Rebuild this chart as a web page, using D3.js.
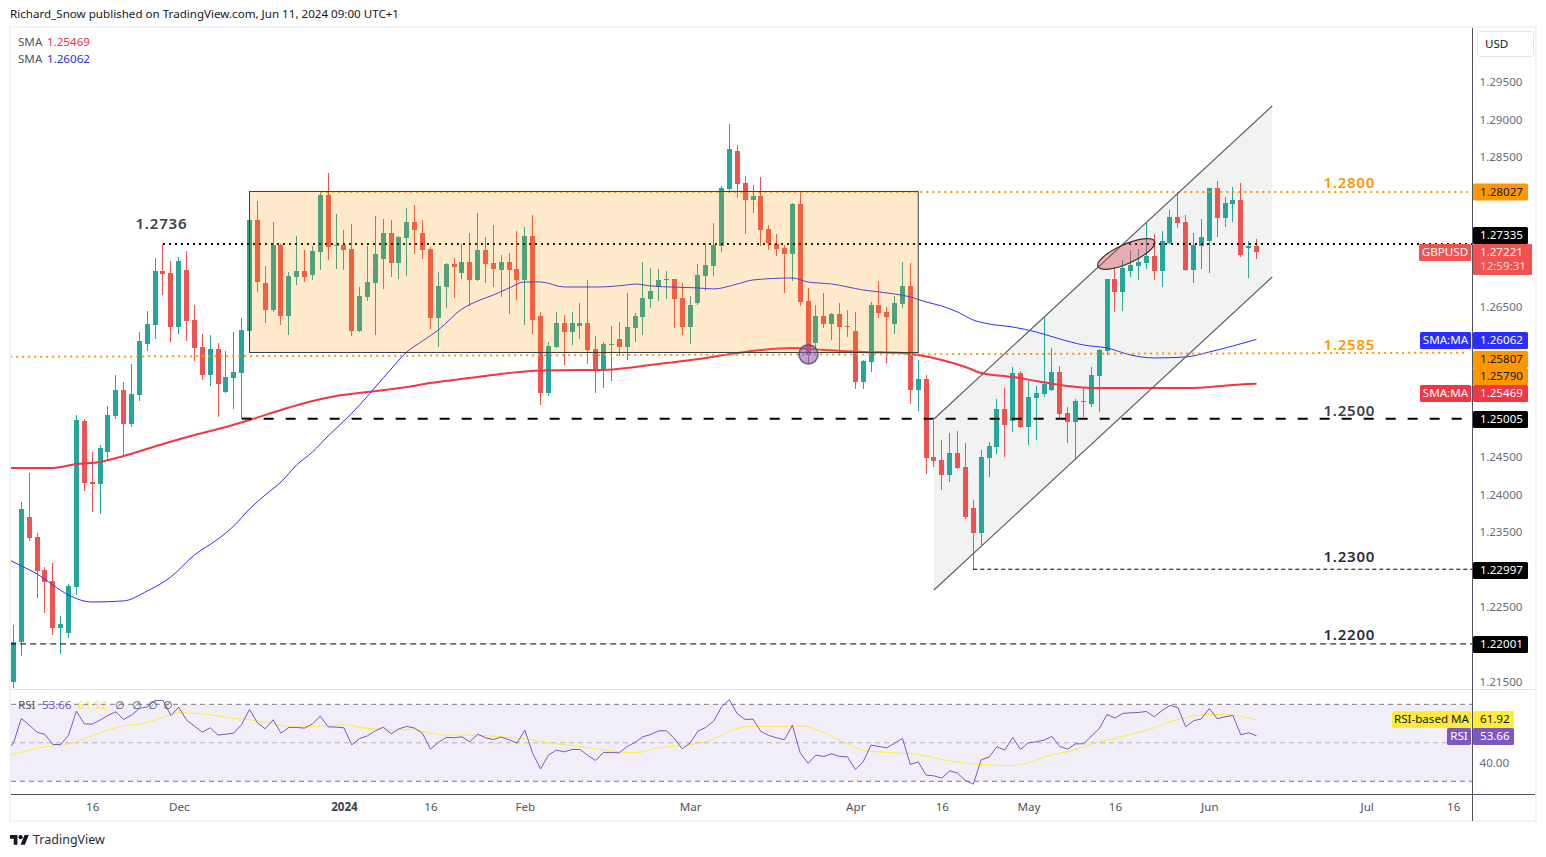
<!DOCTYPE html>
<html>
<head>
<meta charset="utf-8">
<script src="https://cdn.jsdelivr.net/npm/d3@7"></script>
<style>
  html, body { margin: 0; padding: 0; background: #fff; }
  svg { display: block; font-family: "Noto Sans", sans-serif; }
  .tick text { font-family: "Noto Sans", sans-serif; }
</style>
</head>
<body>
<svg width="1546" height="857"></svg>
<script>
// daily GBPUSD candles, one entry per bar
var opens = [
  1.21493,1.22027,1.23694,1.23427,1.22987,1.22841,1.22213,1.22147,1.22761,1.24974,
  1.24160,1.24134,1.24560,1.25040,1.25387,1.24934,1.25320,1.26001,1.26254,1.26974,
  1.26947,1.26227,1.26987,1.26320,1.25960,1.25587,1.25934,1.25360,1.25547,1.25614,
  1.26174,1.27654,1.26814,1.26454,1.27320,1.26374,1.26894,1.26974,1.26920,1.27227,
  1.27987,1.27307,1.27320,1.27267,1.26174,1.26627,1.26814,1.27134,1.27480,1.27080,
  1.27414,1.27627,1.27480,1.27267,1.26347,1.26760,1.27067,1.26947,1.27093,1.26854,
  1.27254,1.27080,1.26987,1.27093,1.27000,1.26854,1.27440,1.26374,1.25347,1.25960,
  1.26280,1.26160,1.26240,1.26280,1.25934,1.25654,1.25987,1.26067,1.25960,1.26214,
  1.26360,1.26600,1.26760,1.26854,1.26867,1.26614,1.26227,1.26547,1.26907,1.27040,
  1.27307,1.28067,1.28574,1.28147,1.27920,1.27974,1.27534,1.27334,1.27280,1.27200,
  1.27867,1.26574,1.26014,1.26374,1.26267,1.26400,1.26240,1.26174,1.25493,1.25760,
  1.26520,1.26427,1.26267,1.26534,1.26774,1.25387,1.25534,1.24494,1.24454,1.24254,
  1.24547,1.24360,1.23813,1.23480,1.24480,1.24627,1.25134,1.24974,1.25614,1.24894,
  1.25280,1.25334,1.25387,1.25627,1.25080,1.24960,1.25227,1.25201,1.25574,1.25907,
  1.26867,1.26693,1.26974,1.27040,1.27080,1.27174,1.26974,1.27347,1.27694,1.27627,
  1.26987,1.27307,1.27374,1.28080,1.27680,1.27867,1.27920,1.27280,1.27307
];
var highs = [
  1.22253,1.23893,1.24280,1.23480,1.23027,1.23080,1.22374,1.22801,1.25053,1.25000,
  1.24560,1.24653,1.25174,1.25587,1.25493,1.25734,1.26160,1.26441,1.27147,1.27334,
  1.27107,1.27161,1.27241,1.26520,1.26134,1.26120,1.26014,1.25907,1.26160,1.26347,
  1.27654,1.27907,1.27040,1.27627,1.27334,1.26960,1.27440,1.27254,1.27307,1.28014,
  1.28280,1.27734,1.27520,1.27600,1.26760,1.27307,1.27707,1.27667,1.27654,1.27440,
  1.27813,1.27853,1.27654,1.27293,1.26960,1.27080,1.27147,1.27334,1.27480,1.27747,
  1.27427,1.27587,1.27187,1.27214,1.27507,1.27560,1.27720,1.26427,1.26027,1.26427,
  1.26387,1.26427,1.26547,1.26854,1.26107,1.26027,1.26240,1.26293,1.26680,1.26414,
  1.27093,1.27014,1.27000,1.26974,1.26867,1.26814,1.26640,1.27067,1.27347,1.27614,
  1.28107,1.28934,1.28654,1.28240,1.28120,1.28227,1.27587,1.27467,1.27320,1.27880,
  1.28027,1.26747,1.26520,1.26680,1.26414,1.26547,1.26454,1.26427,1.25787,1.26560,
  1.26841,1.26494,1.26640,1.27093,1.27080,1.25787,1.25587,1.24987,1.24720,1.24814,
  1.24841,1.24680,1.23920,1.24587,1.24693,1.25267,1.25414,1.25694,1.25640,1.25507,
  1.25440,1.26347,1.25947,1.25707,1.25160,1.25267,1.25414,1.25694,1.25934,1.26867,
  1.27027,1.27120,1.27254,1.27267,1.27614,1.27467,1.27507,1.27787,1.28027,1.27720,
  1.27480,1.27667,1.28080,1.28174,1.27960,1.28094,1.28147,1.27374,1.27400
];
var lows = [
  1.21413,1.21840,1.23374,1.22613,1.22414,1.22120,1.21867,1.22080,1.22653,1.24041,
  1.23760,1.23734,1.24454,1.25000,1.24507,1.24894,1.25241,1.25907,1.26067,1.26653,
  1.26027,1.26134,1.26041,1.25774,1.25520,1.25440,1.25027,1.25347,1.25134,1.25014,
  1.26160,1.26693,1.26280,1.26427,1.26254,1.26120,1.26787,1.26827,1.26854,1.26987,
  1.27120,1.27000,1.26987,1.26107,1.26160,1.26574,1.26120,1.26734,1.26894,1.26867,
  1.26907,1.27200,1.27134,1.26200,1.25960,1.26480,1.26614,1.26867,1.26507,1.26841,
  1.26814,1.26760,1.26627,1.26401,1.26587,1.26254,1.26134,1.25187,1.25307,1.25947,
  1.25720,1.25987,1.26067,1.25734,1.25347,1.25414,1.25507,1.25840,1.25787,1.26027,
  1.26120,1.26480,1.26574,1.26600,1.26214,1.26120,1.26001,1.26520,1.26707,1.26907,
  1.27227,1.28040,1.27947,1.27467,1.27747,1.27307,1.27254,1.27174,1.26680,1.26841,
  1.26507,1.25747,1.25920,1.26214,1.26054,1.25854,1.26094,1.25400,1.25400,1.25627,
  1.26347,1.25747,1.26134,1.26480,1.25201,1.25107,1.24267,1.24360,1.24054,1.24160,
  1.24334,1.23667,1.22987,1.23320,1.24227,1.24534,1.24494,1.24827,1.24880,1.24653,
  1.24720,1.25294,1.25374,1.25014,1.24680,1.24454,1.25027,1.25160,1.25094,1.25854,
  1.26427,1.26441,1.26894,1.26854,1.27000,1.26854,1.26760,1.27334,1.27547,1.26974,
  1.26814,1.27000,1.26947,1.27427,1.27560,1.27627,1.27161,1.26880,1.27134
];
var closes = [
  1.22027,1.23800,1.23413,1.22974,1.22827,1.22213,1.22267,1.22774,1.24987,1.24147,
  1.24134,1.24613,1.25053,1.25387,1.24934,1.25334,1.26041,1.26267,1.26974,1.26934,
  1.26227,1.27107,1.26307,1.25947,1.25587,1.25934,1.25467,1.25560,1.25627,1.26187,
  1.27654,1.26827,1.26454,1.27320,1.26374,1.26907,1.26974,1.26894,1.27241,1.27987,
  1.27293,1.27320,1.27254,1.26174,1.26640,1.26827,1.27200,1.27480,1.27080,1.27427,
  1.27627,1.27520,1.27254,1.26347,1.26774,1.27067,1.27027,1.27093,1.26854,1.27254,
  1.27067,1.27000,1.27093,1.26987,1.26854,1.27440,1.26320,1.25347,1.25974,1.26280,
  1.26160,1.26280,1.26280,1.25920,1.25654,1.26001,1.26001,1.25960,1.26227,1.26374,
  1.26614,1.26707,1.26854,1.26867,1.26600,1.26227,1.26520,1.26920,1.27054,1.27320,
  1.28080,1.28600,1.28134,1.27920,1.27974,1.27520,1.27347,1.27267,1.27200,1.27867,
  1.26560,1.25854,1.26374,1.26267,1.26400,1.26227,1.26227,1.25493,1.25774,1.26520,
  1.26414,1.26360,1.26547,1.26774,1.25387,1.25534,1.24480,1.24441,1.24254,1.24547,
  1.24347,1.23694,1.23480,1.24494,1.24640,1.25134,1.24920,1.25614,1.24894,1.25294,
  1.25347,1.25467,1.25627,1.25067,1.24960,1.25241,1.25241,1.25587,1.25920,1.26867,
  1.26693,1.27014,1.27054,1.27093,1.27174,1.26974,1.27374,1.27694,1.27614,1.26987,
  1.27320,1.27427,1.28080,1.27680,1.27880,1.27920,1.27187,1.27307,1.27221
];

// moving averages, read at selected bars
var sma50Bars = [-1,1,3,5,7,10,14,17,20,23,26,28,30,32,34,36,38,40,42,44,46,48,50,52,54,57,59,61,63,65,67,70,74,78,79,81,87,89,92,94,99,101,104,108,112,114,116,118,120,122,124,127,130,133,136,139,142,145,149,152,155,158];
var sma50Values = [1.23147,1.23040,1.22934,1.22787,1.22653,1.22560,1.22574,1.22707,1.22894,1.23187,1.23400,1.23574,1.23800,1.23987,1.24160,1.24387,1.24560,1.24774,1.24974,1.25187,1.25427,1.25667,1.25894,1.26041,1.26187,1.26467,1.26574,1.26653,1.26747,1.26827,1.26827,1.26760,1.26760,1.26787,1.26800,1.26774,1.26747,1.26734,1.26800,1.26854,1.26880,1.26827,1.26800,1.26720,1.26667,1.26627,1.26560,1.26507,1.26427,1.26320,1.26267,1.26227,1.26160,1.26067,1.25987,1.25947,1.25854,1.25814,1.25827,1.25894,1.25974,1.26062];
var sma200Bars = [-1,5,8,11,14,19,23,27,30,34,37,41,45,50,53,59,63,67,72,75,79,83,88,92,95,99,103,108,113,115,118,121,123,127,130,134,137,143,150,155,158];
var sma200Values = [1.24347,1.24347,1.24400,1.24427,1.24507,1.24667,1.24787,1.24894,1.24987,1.25120,1.25214,1.25307,1.25360,1.25427,1.25480,1.25560,1.25614,1.25647,1.25654,1.25654,1.25694,1.25747,1.25814,1.25880,1.25920,1.25947,1.25920,1.25894,1.25880,1.25854,1.25787,1.25694,1.25614,1.25560,1.25507,1.25440,1.25414,1.25414,1.25414,1.25454,1.25469];

// RSI from bar -1 to bar 158
var rsiValues = [
  44.80,50.00,62.64,59.18,55.54,54.33,49.13,49.13,53.98,66.45,59.87,
  59.70,61.78,64.20,66.11,62.12,64.38,67.84,68.71,72.00,72.00,
  64.20,68.53,61.78,58.66,55.54,57.79,53.98,54.50,55.02,59.53,
  67.32,60.39,57.27,61.95,55.02,57.97,57.97,57.62,59.87,63.86,
  58.31,58.14,57.79,48.96,52.25,53.64,56.24,58.14,54.68,57.27,
  58.49,57.62,54.85,46.71,50.17,52.77,52.60,53.12,50.52,54.50,
  52.60,51.73,52.94,51.56,49.83,56.58,44.46,36.49,43.59,46.19,
  45.32,46.54,46.54,43.42,40.82,44.98,44.98,44.80,48.09,50.17,
  53.12,54.33,56.24,56.24,52.25,46.88,49.83,56.06,57.97,61.26,
  68.71,72.34,65.07,62.12,62.30,55.89,53.81,52.60,51.56,59.18,
  44.80,39.26,43.59,42.90,44.28,42.90,42.73,36.14,40.13,48.79,
  48.09,47.40,49.83,52.25,38.74,40.13,33.20,32.85,31.64,35.45,
  34.24,30.43,28.52,41.17,42.55,47.92,46.19,52.77,46.54,50.00,
  50.52,51.39,53.29,48.09,46.71,49.48,49.48,53.46,57.27,64.72,
  62.82,65.24,65.59,65.76,66.28,63.51,66.80,69.40,68.36,58.31,
  61.43,62.47,67.84,62.47,63.51,64.20,54.16,55.20,53.66
];
var rsiMaBars = [-1,2,4,7,9,11,14,16,18,20,21,25,28,30,34,36,39,42,45,49,51,53,55,58,62,65,68,72,75,79,82,86,89,91,94,97,100,103,106,108,112,115,118,123,127,129,132,134,137,141,145,148,152,155,158];
var rsiMaValues = [42.73,46.19,47.92,49.31,52.08,55.20,58.83,59.70,61.95,64.72,65.59,64.55,62.64,61.95,59.18,58.14,58.66,59.35,57.45,56.75,56.75,55.02,53.98,53.98,53.12,52.08,50.00,48.09,46.36,44.80,47.40,48.96,51.91,56.06,58.66,58.31,58.83,55.20,49.48,46.02,44.80,43.94,41.34,38.74,38.22,39.61,43.76,45.32,49.48,53.29,57.79,62.12,64.72,64.38,61.92];

// axis labels
var priceTicks = [1.295,1.29,1.285,1.265,1.245,1.24,1.235,1.225,1.215];
var timeTickBars = [10,21,42,53,65,86,107,118,129,140,152,172,183];
var timeTickLabels = ["16","Dec","2024","16","Feb","Mar","Apr","16","May","16","Jun","Jul","16"];

// drawn levels and their captions
var levelCaptions = ["1.2736","1.2800","1.2585","1.2500","1.2300","1.2200"];
var captionBars = [18.8,169.8,169.8,169.8,169.8,169.8];
var captionPrices = [1.27581,1.28133,1.25974,1.25094,1.23147,1.22107];
var captionColors = ["#3b3f4a","#ff9800","#ff9800","#3b3f4a","#2a2e39","#2a2e39"];

var svg = d3.select("svg"),
  width = +svg.attr("width"),
  height = +svg.attr("height");

var paneLeft = 11,
  paneRight = 1472,
  mainBottom = 689,
  rsiBottom = 794;

var labelSize = 11.6;

var x = d3.scaleLinear().domain([0, 158]).range([13.5, 1256.5]);
var y = d3.scaleLinear().domain([1.29, 1.24]).range([119, 494]);
var yRsi = d3.scaleLinear().domain([70, 30]).range([704.3, 781.3]);

var upColor = "#26a69a",
  downColor = "#ef5350",
  orange = "#ff9800",
  smaRed = "#f23645",
  smaBlue = "#2a2eff",
  rsiPurple = "#7e57c2",
  rsiYellow = "#ffeb3b",
  axisText = "#6a6d78";

var defs = svg.append("defs");
defs.append("clipPath").attr("id", "main-clip").append("rect")
  .attr("x", paneLeft).attr("y", 28).attr("width", paneRight - paneLeft).attr("height", mainBottom - 28);
defs.append("clipPath").attr("id", "rsi-clip").append("rect")
  .attr("x", paneLeft).attr("y", mainBottom + 1).attr("width", paneRight - paneLeft).attr("height", rsiBottom - mainBottom - 1);

// header + frame
svg.append("text")
  .attr("x", 10).attr("y", 18)
  .attr("font-size", labelSize).attr("fill", "#131722")
  .text("Richard_Snow published on TradingView.com, Jun 11, 2024 09:00 UTC+1");

svg.append("rect")
  .attr("x", 10).attr("y", 27).attr("width", 1526).attr("height", 794)
  .attr("fill", "none").attr("stroke", "#f0f3fa").attr("stroke-width", 2);

svg.append("line")
  .attr("x1", 11).attr("x2", 1535).attr("y1", 689.5).attr("y2", 689.5)
  .attr("stroke", "#e0e3eb");

var main = svg.append("g").attr("clip-path", "url(#main-clip)");

// channel fill goes under the candles
var channelTop = [{ bar: 117, price: 1.25, }, { bar: 160, price: 1.29174 }];
var channelBottom = [{ bar: 117, price: 1.2272 }, { bar: 160, price: 1.26894 }];
var priceLine = d3.line().x(d => x(d.bar)).y(d => y(d.price));

main.append("path")
  .attr("d", priceLine(channelTop.concat(channelBottom.slice().reverse())) + "Z")
  .attr("fill", "#f1f3f3");

// candles
var bars = d3.range(opens.length);
var candle = main.append("g").attr("shape-rendering", "crispEdges")
  .selectAll("g").data(bars).enter().append("g")
  .attr("fill", i => (closes[i] >= opens[i] ? upColor : downColor));

candle.append("rect")
  .attr("x", i => Math.floor(x(i)))
  .attr("width", 1)
  .attr("y", i => Math.round(y(highs[i])))
  .attr("height", i => Math.max(1, Math.round(y(lows[i])) - Math.round(y(highs[i]))));

candle.append("rect")
  .attr("x", i => Math.floor(x(i)) - 2)
  .attr("width", 5)
  .attr("y", i => Math.round(y(Math.max(opens[i], closes[i]))))
  .attr("height", i => Math.max(1, Math.round(y(Math.min(opens[i], closes[i]))) - Math.round(y(Math.max(opens[i], closes[i])))));

// moving averages
function maLine(barList, values) {
  return d3.line().x((d, i) => x(barList[i])).y(d => y(d)).curve(d3.curveMonotoneX)(values);
}
main.append("path").attr("d", maLine(sma200Bars, sma200Values))
  .attr("fill", "none").attr("stroke", smaRed).attr("stroke-width", 2);
main.append("path").attr("d", maLine(sma50Bars, sma50Values))
  .attr("fill", "none").attr("stroke", smaBlue).attr("stroke-width", 1);

// horizontal levels
function levelLine(points, color, widthPx, dash) {
  main.append("path").attr("d", priceLine(points))
    .attr("fill", "none").attr("stroke", color)
    .attr("stroke-width", widthPx).attr("stroke-dasharray", dash);
}
var rightBar = x.invert(paneRight);
var orangeEnd = x.invert(1468);
levelLine([{ bar: 19, price: 1.27335 }, { bar: rightBar, price: 1.27335 }], "#000", 2, "2 4");
levelLine([{ bar: 39, price: 1.28027 }, { bar: orangeEnd, price: 1.28027 }], orange, 2, "2 4");
levelLine([{ bar: -0.42, price: 1.2583 }, { bar: orangeEnd, price: 1.25884 }], orange, 2, "2 4");
levelLine([{ bar: 29, price: 1.25005 }, { bar: rightBar, price: 1.25005 }], "#000", 2, "10 12");
levelLine([{ bar: 122, price: 1.22997 }, { bar: rightBar, price: 1.22997 }], "#000", 1, "4 3");
levelLine([{ bar: -0.42, price: 1.22001 }, { bar: rightBar, price: 1.22001 }], "#000", 1, "6 4");

// channel edges
levelLine(channelTop, "#5d606b", 1.2, null);
levelLine(channelBottom, "#5d606b", 1.2, null);

// range box over everything it covers
main.append("rect")
  .attr("x", x(30)).attr("width", x(115) - x(30))
  .attr("y", y(1.28034)).attr("height", y(1.25887) - y(1.28034))
  .attr("fill", orange).attr("fill-opacity", 0.2)
  .attr("stroke", "#363a45").attr("stroke-width", 1);

// marker circle and ellipse
main.append("circle")
  .attr("cx", x(101.05)).attr("cy", y(1.25862)).attr("r", 9.5)
  .attr("fill", rsiPurple).attr("fill-opacity", 0.55)
  .attr("stroke", "#50535e").attr("stroke-opacity", 0.85).attr("stroke-width", 1.6);

main.append("ellipse")
  .attr("transform", "translate(" + x(141.44) + "," + y(1.272) + ") rotate(-24)")
  .attr("rx", 31).attr("ry", 9.5)
  .attr("fill", "#dd3c48").attr("fill-opacity", 0.38)
  .attr("stroke", "#3d2e30").attr("stroke-width", 1.2);

// level captions
svg.append("g").selectAll("text").data(levelCaptions).enter().append("text")
  .attr("x", (d, i) => x(captionBars[i]))
  .attr("y", (d, i) => y(captionPrices[i]))
  .attr("text-anchor", "middle")
  .attr("font-size", 15).attr("font-weight", 600).attr("letter-spacing", 0.8)
  .attr("dominant-baseline", "middle")
  .attr("fill", (d, i) => captionColors[i])
  .text(d => d);

// legends
function legendRow(rowY, value, color) {
  svg.append("text").attr("x", 18).attr("y", rowY).attr("font-size", labelSize).attr("fill", "#50535e").text("SMA");
  svg.append("text").attr("x", 47).attr("y", rowY).attr("font-size", labelSize).attr("fill", color).text(value);
}
legendRow(46, "1.25469", smaRed);
legendRow(63, "1.26062", smaBlue);

// RSI pane
var rsiPane = svg.append("g").attr("clip-path", "url(#rsi-clip)");
rsiPane.append("rect")
  .attr("x", paneLeft).attr("width", paneRight - paneLeft)
  .attr("y", yRsi(70)).attr("height", yRsi(30) - yRsi(70))
  .attr("fill", rsiPurple).attr("fill-opacity", 0.1);

[70, 50, 30].forEach(function(level) {
  rsiPane.append("line")
    .attr("x1", paneLeft).attr("x2", paneRight)
    .attr("y1", yRsi(level)).attr("y2", yRsi(level))
    .attr("stroke", "#787b86")
    .attr("stroke-opacity", level == 50 ? 0.5 : 1)
    .attr("stroke-dasharray", "5 4");
});

rsiPane.append("path")
  .attr("d", d3.line().x((d, i) => x(rsiMaBars[i])).y(d => yRsi(d)).curve(d3.curveMonotoneX)(rsiMaValues))
  .attr("fill", "none").attr("stroke", rsiYellow).attr("stroke-width", 1);
rsiPane.append("path")
  .attr("d", d3.line().x((d, i) => x(i - 1)).y(d => yRsi(d))(rsiValues))
  .attr("fill", "none").attr("stroke", rsiPurple).attr("stroke-width", 1);

var rsiLegendY = 709;
svg.append("text").attr("x", 18).attr("y", rsiLegendY).attr("font-size", labelSize).attr("fill", "#50535e").text("RSI");
svg.append("text").attr("x", 42).attr("y", rsiLegendY).attr("font-size", labelSize).attr("fill", rsiPurple).text("53.66");
svg.append("text").attr("x", 78).attr("y", rsiLegendY).attr("font-size", labelSize).attr("fill", rsiYellow).text("61.92");
[115, 132, 148, 163].forEach(function(legendX) {
  svg.append("text").attr("x", legendX).attr("y", rsiLegendY)
    .attr("font-size", 10.5).attr("font-family", "DejaVu Sans").attr("fill", "#50535e").text("∅");
});

// axes
svg.append("line")
  .attr("x1", 11).attr("x2", 1535).attr("y1", rsiBottom + 0.5).attr("y2", rsiBottom + 0.5)
  .attr("stroke", "#50535e");
svg.append("line")
  .attr("x1", paneRight + 0.5).attr("x2", paneRight + 0.5).attr("y1", 28).attr("y2", 821)
  .attr("stroke", "#50535e");

var priceAxis = svg.append("g")
  .attr("transform", "translate(" + (paneRight + 0.5) + ",0.7)")
  .call(d3.axisRight(y).tickValues(priceTicks).tickSize(0).tickPadding(7).tickFormat(d3.format(".5f")));
priceAxis.select(".domain").remove();
priceAxis.selectAll("text").attr("font-size", labelSize).attr("fill", axisText);

var rsiAxis = svg.append("g")
  .attr("transform", "translate(" + (paneRight + 0.5) + ",0.7)")
  .call(d3.axisRight(yRsi).tickValues([40]).tickSize(0).tickPadding(7).tickFormat(d3.format(".2f")));
rsiAxis.select(".domain").remove();
rsiAxis.selectAll("text").attr("font-size", labelSize).attr("fill", axisText);

var timeAxis = svg.append("g")
  .attr("transform", "translate(0," + (rsiBottom + 6) + ")")
  .call(d3.axisBottom(x).tickValues(timeTickBars).tickSize(0).tickPadding(3)
    .tickFormat((d, i) => timeTickLabels[i]));
timeAxis.select(".domain").remove();
timeAxis.selectAll("text")
  .attr("font-size", labelSize)
  .attr("fill", (d, i) => (timeTickLabels[i] == "2024" ? "#3b3f4a" : "#50535e"))
  .attr("font-weight", (d, i) => (timeTickLabels[i] == "2024" ? 700 : 400));

// USD button
svg.append("rect")
  .attr("x", 1477.5).attr("y", 31.5).attr("width", 56).attr("height", 25).attr("rx", 3)
  .attr("fill", "#fff").attr("stroke", "#e0e3eb");
svg.append("text").attr("x", 1485).attr("y", 48).attr("font-size", labelSize).attr("fill", "#131722").text("USD");

// price badges
function badge(centerY, label, bg, fg, badgeWidth) {
  var g = svg.append("g");
  g.append("rect")
    .attr("x", paneRight + 1).attr("y", centerY - 8.5)
    .attr("width", badgeWidth || 55).attr("height", 17).attr("rx", 1.5)
    .attr("fill", bg);
  g.append("text")
    .attr("x", paneRight + 8).attr("y", centerY + 0.5)
    .attr("dominant-baseline", "middle")
    .attr("font-size", labelSize).attr("fill", fg)
    .text(label);
}
function tag(centerY, label, bg, fg, tagWidth) {
  svg.append("rect")
    .attr("x", paneRight - tagWidth).attr("y", centerY - 8.5)
    .attr("width", tagWidth - 1).attr("height", 17).attr("rx", 1.5)
    .attr("fill", bg);
  svg.append("text")
    .attr("x", paneRight - 1 - (tagWidth - 1) / 2).attr("y", centerY + 0.5)
    .attr("text-anchor", "middle").attr("dominant-baseline", "middle")
    .attr("font-size", labelSize).attr("fill", fg)
    .text(label);
}

badge(192, "1.28027", orange, "#131722");
badge(235.5, "1.27335", "#000", "#fff");
svg.append("rect")
  .attr("x", paneRight + 1).attr("y", 244).attr("width", 59).attr("height", 31).attr("rx", 1.5)
  .attr("fill", downColor);
svg.append("text").attr("x", paneRight + 8).attr("y", 253).attr("dominant-baseline", "middle")
  .attr("font-size", labelSize).attr("fill", "#fff").text("1.27221");
svg.append("text").attr("x", paneRight + 8).attr("y", 267).attr("dominant-baseline", "middle")
  .attr("font-size", labelSize).attr("fill", "#fff").attr("fill-opacity", 0.75).text("12:59:31");
tag(252.5, "GBPUSD", downColor, "#fff", 53);

badge(340.5, "1.26062", smaBlue, "#fff");
tag(340.5, "SMA:MA", smaBlue, "#fff", 52);

badge(359.5, "1.25807", orange, "#131722");
badge(376.5, "1.25790", orange, "#131722");
badge(393.5, "1.25469", smaRed, "#fff");
tag(393.5, "SMA:MA", smaRed, "#fff", 52);

badge(419.5, "1.25005", "#000", "#fff");
badge(570.5, "1.22997", "#000", "#fff");
badge(644.5, "1.22001", "#000", "#fff");

badge(719.5, "61.92", rsiYellow, "#131722", 41);
tag(719.5, "RSI-based MA", rsiYellow, "#131722", 80);
badge(736.5, "53.66", rsiPurple, "#fff", 41);
tag(736.5, "RSI", rsiPurple, "#fff", 25);

// footer logo
var logo = svg.append("g").attr("transform", "translate(10,833) scale(0.53)").attr("fill", "#131722");
logo.append("path").attr("d", "M14 22H7V11H0V4h14v18zM28 22h-8l7.5-18h8L28 22z");
logo.append("circle").attr("cx", 20).attr("cy", 8).attr("r", 4);
svg.append("text").attr("x", 33).attr("y", 844).attr("font-size", 12.5).attr("fill", "#2a2e39").text("TradingView");
</script>
</body>
</html>
